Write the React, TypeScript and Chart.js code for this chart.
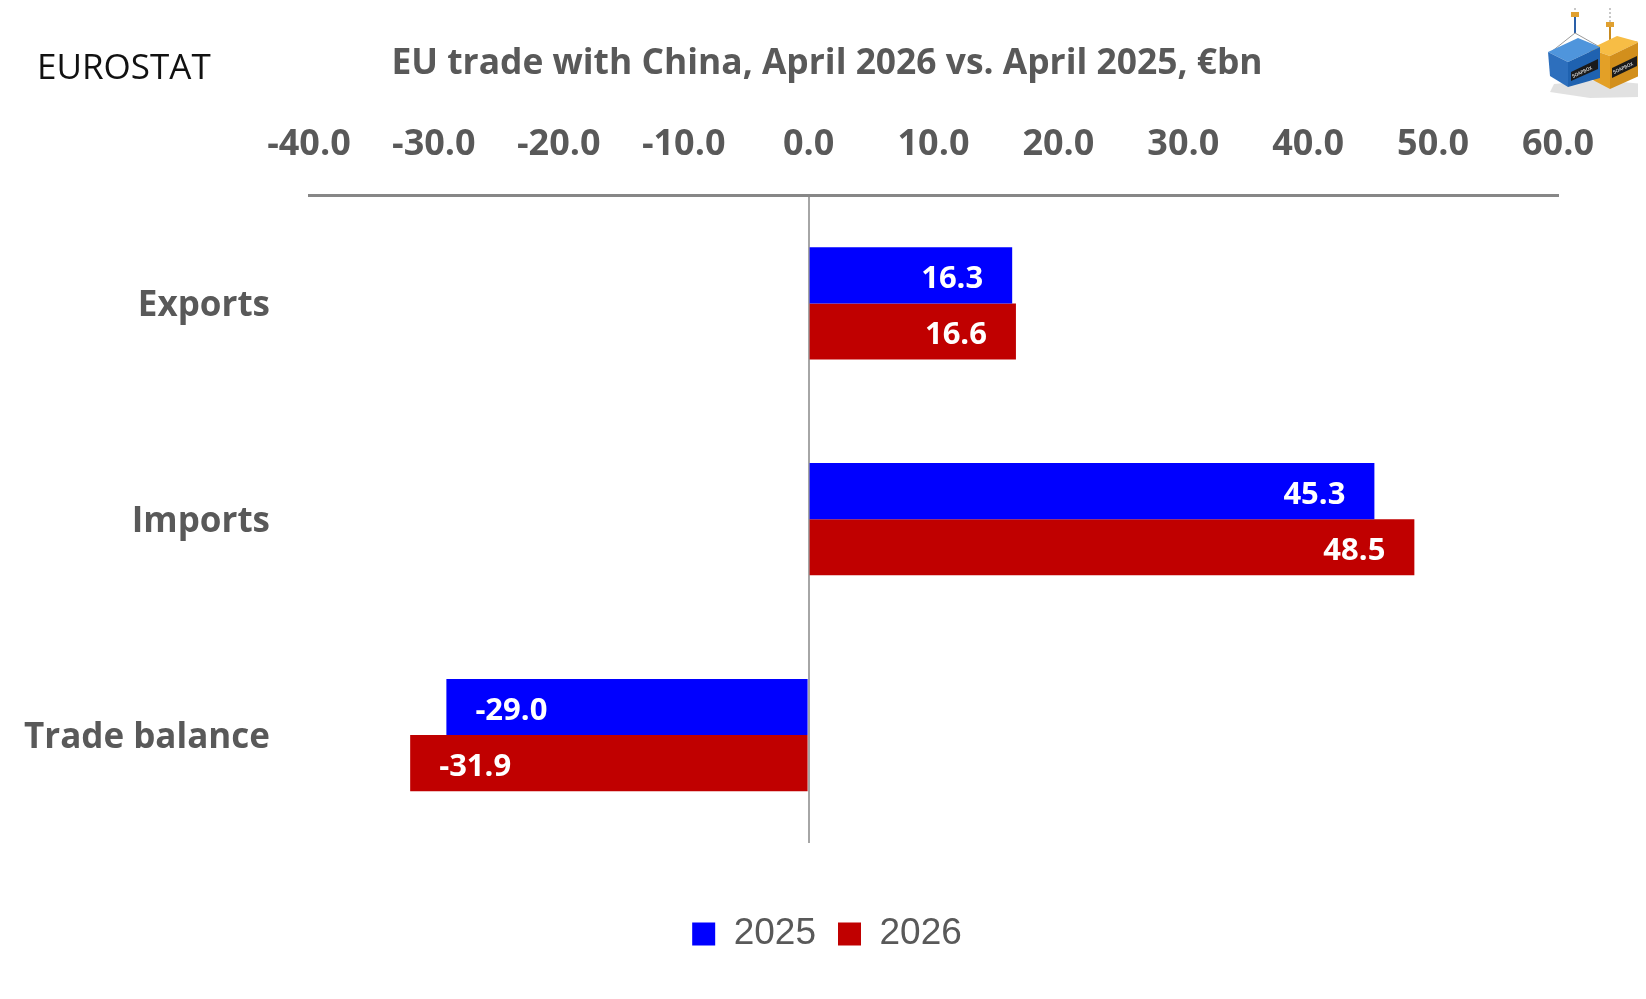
import React, { useEffect, useRef } from 'react';
import { Chart, registerables } from 'chart.js';

Chart.register(...registerables);

// ---- data ----
const categories = ['Exports', 'Imports', 'Trade balance'];
const seriesLabels = ['2025', '2026'];
const values2025 = [16.3, 45.3, -29.0];
const values2026 = [16.6, 48.5, -31.9];
const seriesColors = ['#0000FF', '#C00000'];
const xMin = -40;
const xMax = 60;
const xStep = 10;
const chartTitle = 'EU trade with China, April 2026 vs. April 2025, €bn';
const sourceLabel = 'EUROSTAT';

const W = 1630;
const H = 983;
const GREY = '#595959';
const SANS = '"Open Sans", "Noto Sans", sans-serif';

const valueLabels = {
  id: 'valueLabels',
  afterDatasetsDraw(chart: any) {
    const ctx = chart.ctx;
    ctx.save();
    ctx.font = `bold 31px ${SANS}`;
    ctx.fillStyle = '#FFFFFF';
    ctx.textBaseline = 'middle';
    chart.data.datasets.forEach((ds: any, di: number) => {
      const meta = chart.getDatasetMeta(di);
      meta.data.forEach((el: any, i: number) => {
        const v = ds.data[i] as number;
        const { x, y } = el.getProps(['x', 'y'], true);
        const txt = v.toFixed(1);
        if (v >= 0) {
          ctx.textAlign = 'right';
          ctx.fillText(txt, x - 29, y + 4);
        } else {
          ctx.textAlign = 'left';
          ctx.fillText(txt, x + 29, y + 4);
        }
      });
    });
    ctx.restore();
  },
};

const sourceMark = {
  id: 'sourceMark',
  afterDraw(chart: any) {
    const ctx = chart.ctx;
    ctx.save();
    ctx.font = `35px ${SANS}`;
    ctx.fillStyle = '#111111';
    ctx.textAlign = 'left';
    ctx.textBaseline = 'alphabetic';
    ctx.fillText(sourceLabel, 29, 71);
    ctx.restore();
  },
};

function Logo() {
  return (
    <svg
      width={106}
      height={100}
      viewBox="0 0 106 100"
      style={{ position: 'absolute', left: 1532, top: -8 }}
    >
      <polygon points="14,84 60,80 104,84 98,97 50,98 10,92" fill="#d9d9d9" opacity={0.8} />
      <line x1={35} y1={0} x2={35} y2={12} stroke="#c8c8c8" strokeWidth={2} strokeDasharray="2,2" />
      <line x1={70} y1={0} x2={70} y2={22} stroke="#c8c8c8" strokeWidth={2} strokeDasharray="2,2" />
      {/* blue hook */}
      <rect x={31} y={12} width={8} height={5} fill="#e0a030" />
      <line x1={35} y1={17} x2={35} y2={33} stroke="#2a5fa8" strokeWidth={2} />
      <line x1={35} y1={33} x2={11} y2={52} stroke="#9a9a9a" strokeWidth={1} />
      <line x1={35} y1={33} x2={58} y2={46} stroke="#9a9a9a" strokeWidth={1} />
      {/* orange hook */}
      <rect x={66} y={22} width={8} height={5} fill="#e0a030" />
      <line x1={70} y1={27} x2={70} y2={42} stroke="#c78a20" strokeWidth={2} />
      <line x1={70} y1={42} x2={52} y2={49} stroke="#9a9a9a" strokeWidth={1} />
      <line x1={70} y1={42} x2={97} y2={42} stroke="#9a9a9a" strokeWidth={1} />
      {/* orange container */}
      <polygon points="50,49 77,36 99,42 70,56" fill="#f7bd45" />
      <polygon points="50,49 70,56 70,89 51,79" fill="#e3a027" />
      <polygon points="70,56 99,42 99,76 70,89" fill="#d28f1c" />
      <polygon points="72,68 97,56 97,66 72,78" fill="#1a1a1a" />
      <text x={74} y={74} fontSize={4.5} fill="#fff" transform="rotate(-25 74 74)" fontFamily="DejaVu Sans">SOAPBOX</text>
      {/* blue container */}
      <polygon points="8,52 38,38 60,47 28,62" fill="#4f95dc" />
      <polygon points="8,52 28,62 28,87 10,76" fill="#2d6fbd" />
      <polygon points="28,62 60,47 60,78 28,87" fill="#1f62b0" />
      <polygon points="31,72 58,59 58,69 31,81" fill="#1a1a1a" />
      <text x={33} y={78} fontSize={4.5} fill="#fff" transform="rotate(-25 33 78)" fontFamily="DejaVu Sans">SOAPBOX</text>
    </svg>
  );
}

export default function App() {
  const ref = useRef<HTMLCanvasElement | null>(null);

  useEffect(() => {
    let chart: Chart | null = null;
    let cancelled = false;
    const make = () => {
      if (cancelled || !ref.current) return;
      chart = new Chart(ref.current, {
        type: 'bar',
        data: {
          labels: categories,
          datasets: [
            {
              label: seriesLabels[0],
              data: values2025,
              backgroundColor: seriesColors[0],
              borderWidth: 0,
              xAxisID: 'x',
              yAxisID: 'y',
            },
            {
              label: seriesLabels[1],
              data: values2026,
              backgroundColor: seriesColors[1],
              borderWidth: 0,
              xAxisID: 'x',
              yAxisID: 'y',
            },
          ],
        },
        options: {
          indexAxis: 'y',
          responsive: false,
          animation: false,
          devicePixelRatio: 1,
          layout: { padding: { left: 8, right: 0, top: 0, bottom: 28.5 } },
          datasets: {
            bar: { categoryPercentage: 0.52, barPercentage: 1 },
          },
          scales: {
            x: {
              type: 'linear',
              position: 'top',
              min: xMin,
              max: xMax,
              ticks: {
                stepSize: xStep,
                color: GREY,
                padding: 29,
                font: { family: SANS, size: 36, weight: 'bold' },
                callback: (v: any) => Number(v).toFixed(1),
              },
              grid: {
                drawTicks: false,
                lineWidth: 2,
                color: (c: any) => (c.tick && c.tick.value === 0 ? '#A6A6A6' : 'rgba(0,0,0,0)'),
              },
              border: { display: true, color: '#878787', width: 3 },
              afterFit: (s: any) => {
                s.height = 72.8;
              },
            },
            gap: {
              type: 'linear',
              axis: 'x',
              position: 'bottom',
              display: true,
              ticks: { display: false },
              grid: { display: false, drawTicks: false },
              border: { display: false },
              afterFit: (s: any) => {
                s.height = 50.5;
              },
            },
            rgap: {
              type: 'linear',
              axis: 'y',
              position: 'right',
              display: true,
              ticks: { display: false },
              grid: { display: false, drawTicks: false },
              border: { display: false },
              afterFit: (s: any) => {
                s.width = 80;
              },
            },
            y: {
              type: 'category',
              position: 'left',
              grid: { display: false, drawTicks: false },
              border: { display: false },
              ticks: {
                color: GREY,
                padding: 39,
                labelOffset: 3,
                font: { family: SANS, size: 35, weight: 'bold' },
              },
              afterFit: (s: any) => {
                s.width = 293;
              },
            },
          } as any,
          plugins: {
            title: {
              display: true,
              text: chartTitle,
              color: GREY,
              font: { family: SANS, size: 35.4, weight: 'bold' },
              padding: { top: 35, bottom: 37.2 },
            },
            legend: {
              display: true,
              position: 'bottom',
              align: 'center',
              labels: {
                boxWidth: 23,
                boxHeight: 23,
                padding: 22,
                color: GREY,
                font: { family: '"Liberation Sans", Arial, sans-serif', size: 37 },
              },
            },
            tooltip: { enabled: false },
          },
        } as any,
        plugins: [valueLabels, sourceMark],
      });
    };
    const fonts = (document as any).fonts;
    if (fonts && fonts.load) {
      Promise.all([
        fonts.load(`bold 35px "Open Sans"`),
        fonts.load(`35px "Open Sans"`),
        fonts.load(`37px "Liberation Sans"`),
      ]).then(make, make);
    } else {
      make();
    }
    return () => {
      cancelled = true;
      if (chart) chart.destroy();
    };
  }, []);

  return (
    <div style={{ position: 'relative', width: W, height: H }}>
      <canvas ref={ref} width={W} height={H} style={{ display: 'block', width: W, height: H }} />
      <Logo />
    </div>
  );
}
